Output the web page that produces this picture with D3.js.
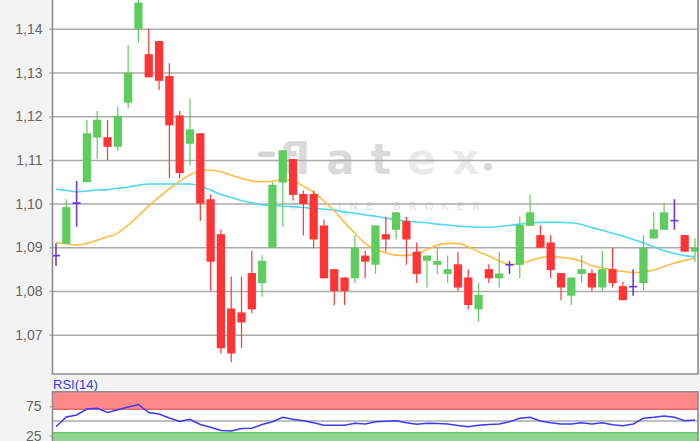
<!DOCTYPE html>
<html><head><meta charset="utf-8">
<script src="https://cdn.jsdelivr.net/npm/d3@7"></script>
<style>
html,body{margin:0;padding:0;background:#f3f3f3;}
svg{display:block;}
</style></head>
<body>
<svg id="chart" width="700" height="441"></svg>
<script>
// ---- data ----
const openVals  = [1.0881,1.0908,1.1001,1.1049,1.1151,1.1152,1.1130,1.1231,1.1400,1.1342,1.1372,1.1292,1.1202,1.1137,1.1161,1.1010,1.0930,1.0760,1.0751,1.0841,1.0818,1.0899,1.1048,1.1102,1.1022,1.1022,1.0950,1.0850,1.0831,1.0829,1.0881,1.0860,1.0930,1.0940,1.0960,1.0890,1.0869,1.0860,1.0839,1.0861,1.0831,1.0758,1.0850,1.0829,1.0860,1.0860,1.0949,1.0928,1.0911,1.0841,1.0789,1.0839,1.0841,1.0808,1.0850,1.0811,1.0810,1.0818,1.0920,1.0940,1.0961,1.0928,1.0890];
const highVals  = [1.0909,1.1010,1.1052,1.1192,1.1212,1.1192,1.1221,1.1363,1.1480,1.1400,1.1372,1.1321,1.1212,1.1241,1.1161,1.1021,1.0941,1.0833,1.0833,1.0892,1.0882,1.1050,1.1122,1.1102,1.1030,1.1030,1.0963,1.0850,1.0831,1.0928,1.0892,1.0950,1.0970,1.0980,1.0970,1.0911,1.0881,1.0899,1.0881,1.0890,1.0850,1.0818,1.0861,1.0890,1.0869,1.0970,1.1021,1.0950,1.0928,1.0841,1.0831,1.0882,1.0850,1.0892,1.0899,1.0821,1.0850,1.0928,1.0980,1.1001,1.1010,1.0928,1.0920];
const lowVals   = [1.0858,1.0908,1.0947,1.1049,1.1102,1.1100,1.1121,1.1218,1.1369,1.1289,1.1260,1.1058,1.1058,1.1087,1.0960,1.0801,1.0657,1.0637,1.0669,1.0749,1.0787,1.0899,1.0947,1.1007,1.0927,1.0898,1.0829,1.0768,1.0768,1.0818,1.0829,1.0839,1.0890,1.0918,1.0860,1.0818,1.0808,1.0839,1.0818,1.0800,1.0758,1.0730,1.0818,1.0808,1.0839,1.0829,1.0949,1.0899,1.0829,1.0779,1.0768,1.0818,1.0800,1.0800,1.0808,1.0779,1.0789,1.0802,1.0920,1.0940,1.0940,1.0890,1.0867];
const closeVals = [1.0881,1.0992,1.1001,1.1161,1.1192,1.1130,1.1201,1.1300,1.1460,1.1289,1.1281,1.1179,1.1070,1.1170,1.1000,1.0867,1.0669,1.0657,1.0728,1.0758,1.0869,1.1043,1.1122,1.1020,1.0999,1.0918,1.0829,1.0800,1.0800,1.0899,1.0867,1.0950,1.0918,1.0980,1.0918,1.0839,1.0881,1.0869,1.0850,1.0808,1.0768,1.0791,1.0829,1.0840,1.0860,1.0951,1.0980,1.0899,1.0848,1.0808,1.0831,1.0850,1.0808,1.0850,1.0818,1.0779,1.0810,1.0899,1.0941,1.0980,1.0961,1.0890,1.0899];
const maSlow = [1.1033,1.1030,1.1027,1.1029,1.1031,1.1032,1.1035,1.1038,1.1042,1.1045,1.1045,1.1045,1.1045,1.1045,1.1040,1.1031,1.1021,1.1014,1.1007,1.1002,1.0997,1.0996,1.0994,1.0993,1.0991,1.0989,1.0987,1.0985,1.0981,1.0978,1.0974,1.0971,1.0967,1.0963,1.0960,1.0958,1.0956,1.0953,1.0951,1.0949,1.0947,1.0946,1.0946,1.0948,1.0950,1.0953,1.0956,1.0957,1.0957,1.0957,1.0956,1.0952,1.0945,1.0939,1.0932,1.0926,1.0918,1.0910,1.0901,1.0892,1.0886,1.0881,1.0878];
const maFast = [1.0911,1.0908,1.0905,1.0909,1.0916,1.0924,1.0933,1.0951,1.0972,1.0995,1.1015,1.1034,1.1051,1.1066,1.1074,1.1077,1.1073,1.1065,1.1058,1.1052,1.1050,1.1051,1.1055,1.1052,1.1040,1.1026,1.1006,1.0983,1.0957,1.0932,1.0909,1.0896,1.0887,1.0882,1.0881,1.0885,1.0895,1.0905,1.0909,1.0909,1.0901,1.0890,1.0880,1.0869,1.0861,1.0863,1.0869,1.0876,1.0879,1.0877,1.0874,1.0868,1.0858,1.0853,1.0848,1.0845,1.0842,1.0844,1.0848,1.0856,1.0864,1.0870,1.0875];
const rsiVals = [40.2,56.8,60.2,70.4,71.6,64.4,69.1,73.8,78.1,64.4,61.9,55.0,49.1,52.8,43.9,39.1,33.7,32.8,37.1,37.4,43.9,48.7,56.2,52.8,50.3,46.8,42.6,42.6,42.6,46.0,44.8,48.7,49.6,50.4,47.0,44.3,46.0,45.5,44.8,42.2,40.2,42.7,43.8,44.8,48.7,54.5,56.2,49.9,47.0,44.8,44.8,47.0,44.8,47.0,43.6,41.9,44.8,54.5,56.2,58.5,56.2,50.4,51.6];
const priceTicks = [1.07,1.08,1.09,1.10,1.11,1.12,1.13,1.14];
const rsiTicks = [75,25];
const rsiLabel = "RSI(14)";

const candles = openVals.map((o,i)=>({i, o, h:highVals[i], l:lowVals[i], c:closeVals[i]}));

// ---- layout ----
const svg = d3.select("#chart");
const L = 52.5, R = 698, T = 0, B = 374;
const rT = 391.7, rB = 441;

const x = d3.scalePoint().domain(d3.range(candles.length)).range([56, 695]);
const bw = x.step()*0.8;
const y = d3.scaleLinear().domain([1.0610, 1.1466]).range([B, T]);
const yr = d3.scaleLinear().domain([0,100]).range([450.2, 391.7]);

svg.append("defs").append("clipPath").attr("id","mainclip")
  .append("rect").attr("x",L).attr("y",T).attr("width",R-L).attr("height",B-T);
svg.select("defs").append("clipPath").attr("id","rsiclip")
  .append("rect").attr("x",L).attr("y",rT).attr("width",R-L).attr("height",rB-rT+5);

// main plot background
svg.append("rect").attr("x",L).attr("y",T-2).attr("width",R-L).attr("height",B-T+2).attr("fill","#fff");

// watermark
const wm = svg.append("g").attr("clip-path","url(#mainclip)");
wm.append("rect").attr("x",258).attr("y",151.5).attr("width",17).attr("height",5.5).attr("rx",2.5).attr("fill","#d6d6d6");
const wt = wm.append("text").attr("x",279).attr("y",174).attr("font-family","'DejaVu Sans', sans-serif")
  .attr("font-size",42).attr("font-weight","bold").attr("textLength",200).attr("lengthAdjust","spacing");
wt.append("tspan").attr("fill","#dadada").text("flat");
wt.append("tspan").attr("fill","#eaeaea").text("ex");
wm.append("circle").attr("cx",488).attr("cy",166.7).attr("r",4).attr("fill","#dadada");
wm.append("text").attr("x",290).attr("y",210).attr("font-family","'DejaVu Sans', sans-serif")
  .attr("font-size",11).attr("fill","#dedede").attr("textLength",190).attr("lengthAdjust","spacing").text("ONLINE BROKER");

// gridlines + y labels
const yAxis = d3.axisLeft(y).tickValues(priceTicks).tickSize(-(R-L)-3).tickPadding(7)
  .tickFormat(d=>d3.format(".2f")(d).replace(".",","));
const ga = svg.append("g").attr("transform",`translate(${L-3},0)`).call(yAxis);
ga.select(".domain").remove();
ga.selectAll(".tick line").attr("stroke","#ababab").attr("stroke-width",1.5);
ga.selectAll(".tick line").attr("x1",0).attr("x2",R-L+3);
ga.selectAll(".tick text").attr("fill","#666").attr("font-size",14).attr("font-family","'Liberation Sans', Arial, sans-serif");

// moving averages
const gp = svg.append("g").attr("clip-path","url(#mainclip)");
const line = d3.line().x((d,i)=>x(i)).y(d=>y(d)).curve(d3.curveMonotoneX);
gp.append("path").attr("d",line(maSlow)).attr("fill","none").attr("stroke","#4fd8f2").attr("stroke-width",1.6);
gp.append("path").attr("d",line(maFast)).attr("fill","none").attr("stroke","#ffbd45").attr("stroke-width",1.6);

// candles
const col = d => d.c > d.o ? "#5fcc5f" : (d.c < d.o ? "#ff3535" : "#6a3ce0");
const cg = gp.selectAll("g.candle").data(candles).join("g").attr("class","candle");
cg.append("line").attr("x1",d=>x(d.i)).attr("x2",d=>x(d.i)).attr("y1",d=>y(d.h)).attr("y2",d=>y(d.l))
  .attr("stroke",col).attr("stroke-width",d=>d.c===d.o?1.6:1.2);
cg.filter(d=>d.c!==d.o).append("rect").attr("x",d=>x(d.i)-bw/2).attr("width",bw)
  .attr("y",d=>y(Math.max(d.o,d.c))).attr("height",d=>Math.max(1,Math.abs(y(d.o)-y(d.c))))
  .attr("fill",col);
cg.filter(d=>d.c===d.o).append("line").attr("x1",d=>x(d.i)-bw/2).attr("x2",d=>x(d.i)+bw/2)
  .attr("y1",d=>y(d.o)).attr("y2",d=>y(d.o)).attr("stroke",col).attr("stroke-width",1.6);

// main border
svg.append("path").attr("d",`M${L},${T-2}V${B}H${R}V${T-2}`).attr("fill","none").attr("stroke","#8c8c8c").attr("stroke-width",1.6);

// RSI panel
svg.append("text").attr("x",53).attr("y",389).attr("fill","#2b3cf5").attr("font-size",13)
  .attr("font-family","'Liberation Sans', Arial, sans-serif").text(rsiLabel);
svg.append("rect").attr("x",L).attr("y",rT).attr("width",R-L).attr("height",rB-rT+5).attr("fill","#fff");
const rg = svg.append("g").attr("clip-path","url(#rsiclip)");
rg.append("rect").attr("x",L).attr("y",yr(100)).attr("width",R-L).attr("height",yr(70)-yr(100)).attr("fill","#ff8888");
rg.append("line").attr("x1",L).attr("x2",R).attr("y1",yr(70)).attr("y2",yr(70)).attr("stroke","#e06a6a").attr("stroke-width",1.5);
rg.append("rect").attr("x",L).attr("y",yr(30)).attr("width",R-L).attr("height",yr(0)-yr(30)).attr("fill","#8fd68f");
rg.append("line").attr("x1",L).attr("x2",R).attr("y1",yr(30)).attr("y2",yr(30)).attr("stroke","#6cc46c").attr("stroke-width",1.5);
rg.append("line").attr("x1",L).attr("x2",R).attr("y1",yr(50)).attr("y2",yr(50)).attr("stroke","#ababab").attr("stroke-width",1.5);
const rline = d3.line().x((d,i)=>x(i)).y(d=>yr(d));
rg.append("path").attr("d",rline(rsiVals)).attr("fill","none").attr("stroke","#3b3bf0").attr("stroke-width",1.5);
const ra = svg.append("g").attr("transform",`translate(${L},0)`)
  .call(d3.axisLeft(yr).tickValues(rsiTicks).tickSize(3).tickPadding(8));
ra.select(".domain").remove();
ra.selectAll(".tick line").attr("stroke","#999");
ra.selectAll(".tick text").attr("fill","#666").attr("font-size",14).attr("font-family","'Liberation Sans', Arial, sans-serif");
svg.append("path").attr("d",`M${L},${rB+3}V${rT}H${R}V${rB+3}`).attr("fill","none").attr("stroke","#8c8c8c").attr("stroke-width",1.6);
</script>
</body></html>
